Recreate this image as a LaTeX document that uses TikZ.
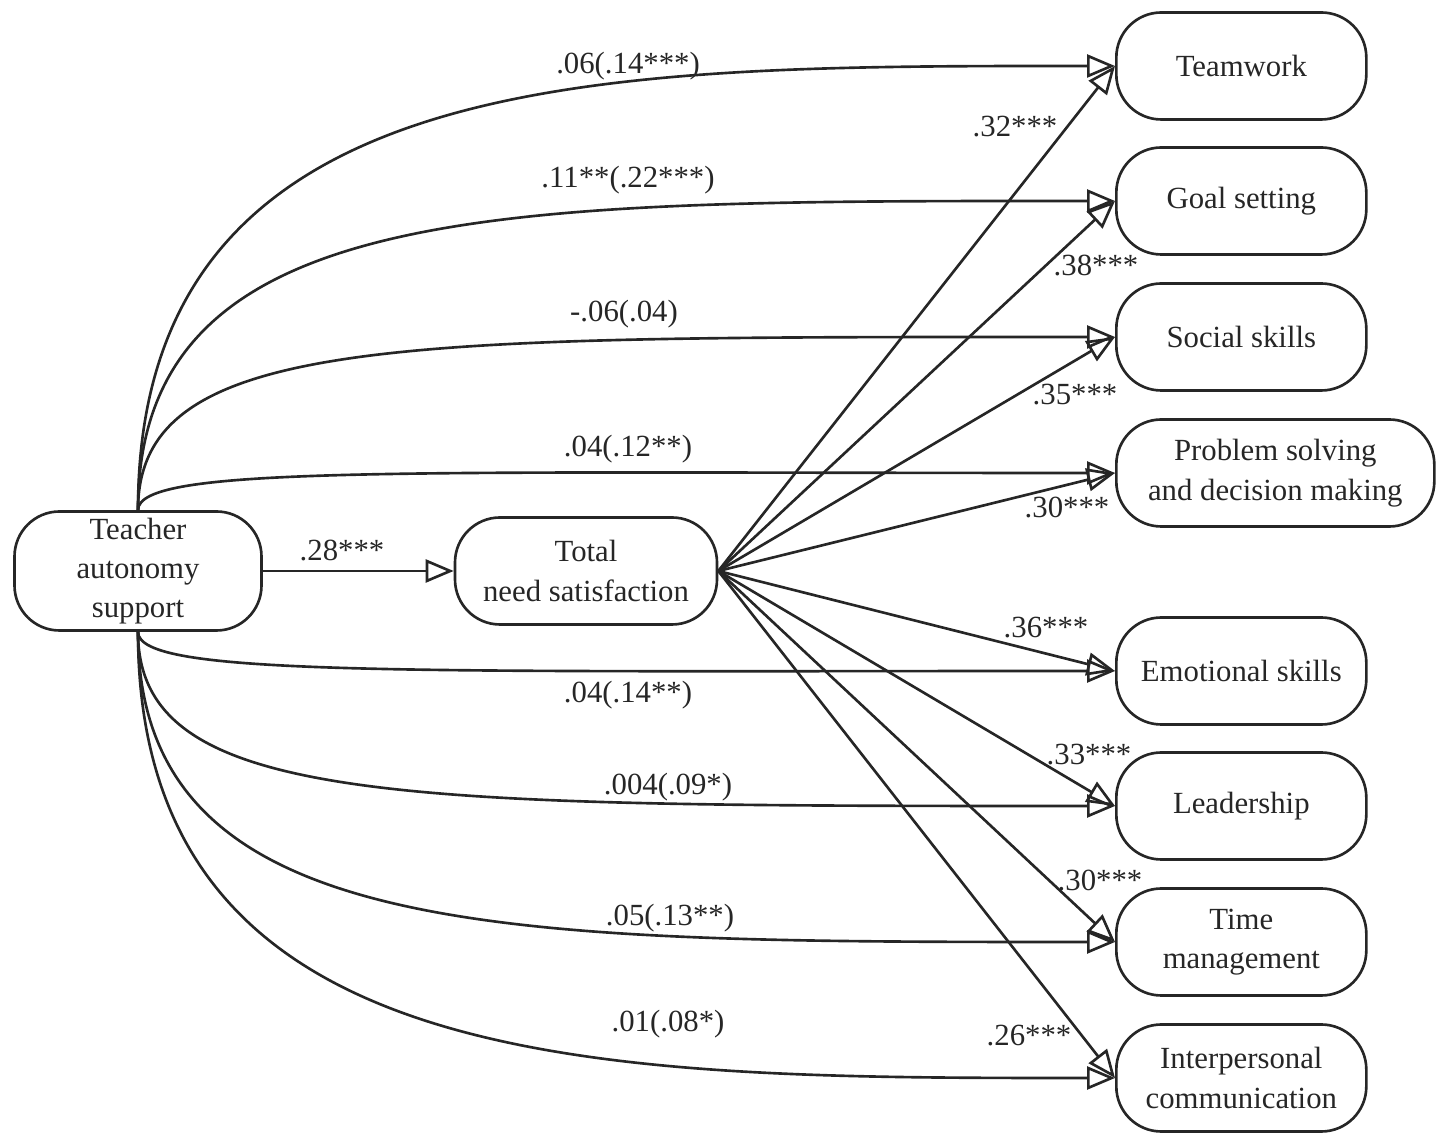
\documentclass[tikz,border=0pt]{standalone}
\usepackage{fontspec}
\setmainfont{Liberation Serif}
\usetikzlibrary{arrows.meta}

\begin{document}
\begin{tikzpicture}[>={Triangle[open,length=0.56cm,width=0.46cm]}, line width=1.5pt, color=black!85,
  box/.style={draw, rounded corners=0.9cm, align=center, inner sep=0pt,
    minimum width=5cm, minimum height=2.14cm, font=\fontsize{17.5}{22.4}\selectfont},
  coef/.style={inner sep=1pt, font=\fontsize{17.5}{21}\selectfont}]
  \useasboundingbox (0,0) rectangle (29.1,22.78);

  % predictor and mediator
  \node[box, minimum width=4.94cm, minimum height=2.38cm] (tas) at (2.76,11.36) {Teacher\\autonomy\\support};
  \node[box, minimum width=5.24cm] (tns) at (11.72,11.36) {Total\\need satisfaction};

  % outcomes
  \node[box, anchor=west] (team) at (22.3,21.46) {Teamwork};
  \node[box, anchor=west] (goal) at (22.3,18.76) {Goal setting};
  \node[box, anchor=west] (soc) at (22.3,16.04) {Social skills};
  \node[box, anchor=west, minimum width=6.36cm] (prob) at (22.3,13.32) {Problem solving\\and decision making};
  \node[box, anchor=west] (emo) at (22.3,9.36) {Emotional skills};
  \node[box, anchor=west] (lead) at (22.3,6.66) {Leadership};
  \node[box, anchor=west] (time) at (22.3,3.94) {Time\\management};
  \node[box, anchor=west] (inter) at (22.3,1.22) {Interpersonal\\communication};

  % direct paths
  \draw[->] (tas.north) .. controls +(0,8.94) and +(-10.3,0) .. (team.west);
  \draw[->] (tas.north) .. controls +(0,6.24) and +(-12.3,0) .. (goal.west);
  \draw[->] (tas.north) .. controls +(0,3.52) and +(-14.3,0) .. (soc.west);
  \draw[->] (tas.north) .. controls +(0,0.9) and +(-14.3,0) .. (prob.west);
  \draw[->] (tas.south) .. controls +(0,-0.9) and +(-14.3,0) .. (emo.west);
  \draw[->] (tas.south) .. controls +(0,-3.48) and +(-14.3,0) .. (lead.west);
  \draw[->] (tas.south) .. controls +(0,-6.2) and +(-12.3,0) .. (time.west);
  \draw[->] (tas.south) .. controls +(0,-8.92) and +(-10.3,0) .. (inter.west);

  \node[coef] (c1) at (12.56,21.46) {.06(.14***)};
  \node[coef] (c2) at (12.56,19.18) {.11**(.22***)};
  \node[coef] (c3) at (12.48,16.5) {-.06(.04)};
  \node[coef] (c4) at (12.56,13.8) {.04(.12**)};
  \node[coef] (c5) at (12.56,8.88) {.04(.14**)};
  \node[coef] (c6) at (13.36,7.04) {.004(.09*)};
  \node[coef] (c7) at (13.4,4.42) {.05(.13**)};
  \node[coef] (c8) at (13.36,2.3) {.01(.08*)};

  % indirect paths
  \draw[->] (tas) -- (tns);
  \node[coef] (a) at (6.84,11.76) {.28***};
  \draw[->] (tns.east) -- (team.west);
  \draw[->] (tns.east) -- (goal.west);
  \draw[->] (tns.east) -- (soc.west);
  \draw[->] (tns.east) -- (prob.west);
  \draw[->] (tns.east) -- (emo.west);
  \draw[->] (tns.east) -- (lead.west);
  \draw[->] (tns.east) -- (time.west);
  \draw[->] (tns.east) -- (inter.west);

  \node[coef] (b1) at (20.3,20.24) {.32***};
  \node[coef] (b2) at (21.92,17.46) {.38***};
  \node[coef] (b3) at (21.5,14.88) {.35***};
  \node[coef] (b4) at (21.34,12.62) {.30***};
  \node[coef] (b5) at (20.92,10.22) {.36***};
  \node[coef] (b6) at (21.78,7.68) {.33***};
  \node[coef] (b7) at (22.0,5.18) {.30***};
  \node[coef] (b8) at (20.58,2.06) {.26***};
\end{tikzpicture}
\end{document}
